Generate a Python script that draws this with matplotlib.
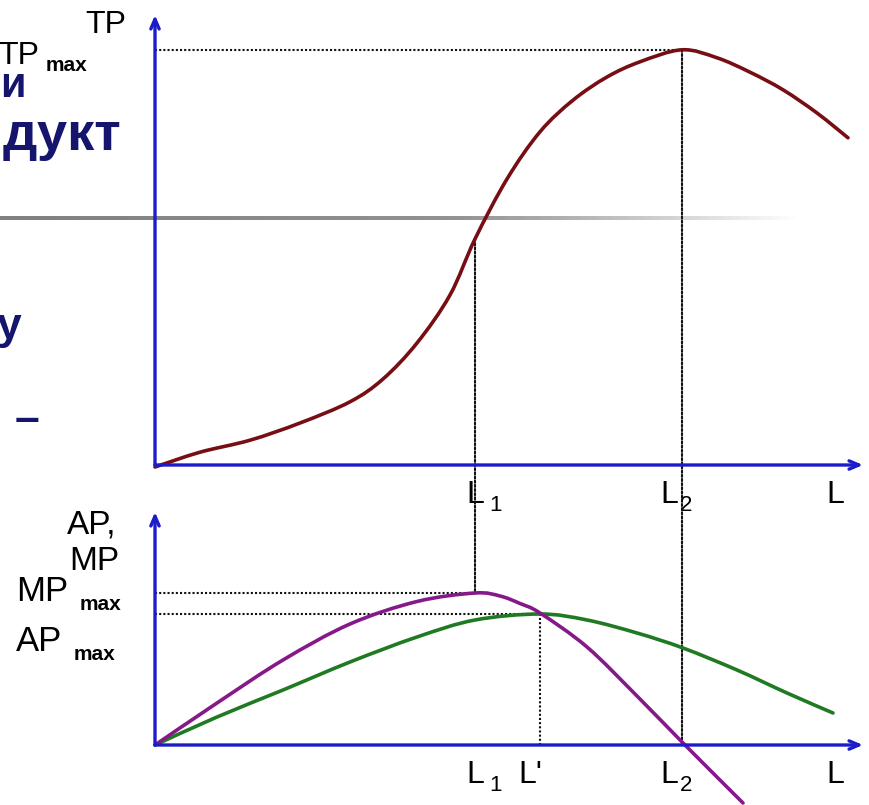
import matplotlib.pyplot as plt
import numpy as np
from matplotlib.patches import ConnectionPatch, PathPatch
from matplotlib.path import Path
from matplotlib import rcParams

rcParams['font.family'] = ['Liberation Sans', 'DejaVu Sans']

# Total product (top panel)
tp_L = [0, 4.5, 9.5, 14.5, 19.5, 22.8, 26.2, 29.5, 32, 35.2, 38.5, 41.8,
        45.2, 48.5, 52.7, 56.2, 59.5, 62.8, 66.2, 69.3]
tp_val = [-0.5, 3.2, 6.2, 10.5, 15.8, 21.5, 30.5, 42.5, 56.5, 71.5, 83.3, 91.2,
          97, 100.8, 103.8, 101.8, 98.2, 93.8, 88, 81.8]

# Marginal product and average product (bottom panel)
mp_L = [0, 6.2, 12.8, 19.5, 26.2, 32, 34.5, 36.5, 38.5, 43.2, 48.2, 52.8, 58.8]
mp_val = [0, 8.4, 17, 24.2, 28.7, 30.4, 29.8, 28.3, 26.4, 19.6, 9.8, 0.4, -11.6]
ap_L = [0, 6.2, 12.8, 19.5, 26.2, 32, 38.5, 43.2, 48.2, 52.8, 58.2, 63.2, 67.8]
ap_val = [0, 5.6, 11, 16.6, 21.6, 25, 26.2, 25, 22.4, 19.4, 15, 10.4, 6.4]

L1, L_prime, L2 = 32, 38.5, 52.7
TP_max, MP_max, AP_max = 103.8, 30.4, 26.2

BLUE = '#1c1cc8'
W, H = 870, 805


def smooth(x, y):
    # Catmull-Rom through the read points, drawn as cubic Bezier pieces
    pts = np.column_stack([x, y]).astype(float)
    verts, codes = [pts[0]], [Path.MOVETO]
    for i in range(len(pts) - 1):
        p0 = pts[i - 1] if i > 0 else pts[i]
        p1, p2 = pts[i], pts[i + 1]
        p3 = pts[i + 2] if i + 2 < len(pts) else pts[i + 1]
        verts += [p1 + (p2 - p0) / 6, p2 - (p3 - p1) / 6, p2]
        codes += [Path.CURVE4] * 3
    return Path(verts, codes)


fig = plt.figure(figsize=(8.7, 8.05), dpi=100)

# background layer in pixel coordinates (slide leftovers, labels)
bg = fig.add_axes([0, 0, 1, 1], zorder=0)
bg.axis('off')

# grey rule of the slide, fading to the right
g = np.linspace(0, 1, 400)
shade = 0.5 + 0.12 * g + 0.38 * np.clip((g - 0.55) / 0.45, 0, 1) ** 1.2
bg.imshow(np.tile(shade, (2, 1)), cmap='gray', vmin=0, vmax=1, aspect='auto',
          extent=[0, 800, 220, 216], interpolation='bilinear')
bg.set_xlim(0, W)
bg.set_ylim(H, 0)

navy = '#15156e'
bg.text(26, 97, "и", ha='right', va='baseline', fontsize=30, fontweight='bold', color=navy)
bg.text(121, 150, "дукт", ha='right', va='baseline', fontsize=39, fontweight='bold', color=navy)
bg.text(21, 339, "у", ha='right', va='baseline', fontsize=32, fontweight='bold', color=navy)
bg.text(39, 432, "–", ha='right', va='baseline', fontsize=32, fontweight='bold', color=navy)

# axis name labels
bg.text(85, 33, "TP", ha='left', va='baseline', fontsize=23)
bg.text(-2, 64, "TP", ha='left', va='baseline', fontsize=23)
bg.text(46, 71, "max", ha='left', va='baseline', fontsize=15, fontweight='bold')
bg.text(67, 533, "AP,", ha='left', va='baseline', fontsize=24)
bg.text(69, 570, "MP", ha='left', va='baseline', fontsize=24)
bg.text(16, 601, "MP", ha='left', va='baseline', fontsize=25)
bg.text(80, 610, "max", ha='left', va='baseline', fontsize=15, fontweight='bold')
bg.text(16, 651, "AP", ha='left', va='baseline', fontsize=25)
bg.text(74, 660, "max", ha='left', va='baseline', fontsize=15, fontweight='bold')

# x-axis labels
for ybase in (503, 783):
    bg.text(466, ybase, "L", ha='left', va='baseline', fontsize=23)
    bg.text(489, ybase + 8, "1", ha='left', va='baseline', fontsize=16)
    bg.text(660, ybase, "L", ha='left', va='baseline', fontsize=23)
    bg.text(680, ybase + 8, "2", ha='left', va='baseline', fontsize=16)
    bg.text(826, ybase, "L", ha='left', va='baseline', fontsize=23)
bg.text(518, 783, "L'", ha='left', va='baseline', fontsize=23)

# top panel: total product
ax1 = fig.add_axes([155 / W, 1 - 465 / H, 715 / W, 460 / H], zorder=2)
ax1.set_xlim(0, 71.5)
ax1.set_ylim(0, 115)
ax1.axis('off')
ax1.patch.set_alpha(0)

# bottom panel: MP and AP
ax2 = fig.add_axes([155 / W, 0, 715 / W, 300 / H], zorder=2)
ax2.set_xlim(0, 71.5)
ax2.set_ylim(-12, 48)
ax2.axis('off')
ax2.patch.set_alpha(0)

dot = dict(color='#111111', lw=1.5, ls=(0, (1, 1)))

# guide lines
ax1.plot([0, L2], [TP_max, TP_max], **dot, zorder=1)
ax2.plot([0, L1], [MP_max, MP_max], **dot, zorder=1)
ax2.plot([0, L_prime], [AP_max, AP_max], **dot, zorder=1)
ax2.plot([L_prime, L_prime], [0, AP_max], **dot, zorder=1)
tp_at_L1 = tp_val[tp_L.index(L1)]
for xa, ya, yb in ((L1, tp_at_L1, MP_max), (L2, TP_max, 0)):
    con = ConnectionPatch(xyA=(xa, ya), coordsA=ax1.transData,
                          xyB=(xa, yb), coordsB=ax2.transData,
                          color='#111111', lw=1.5, ls=(0, (1, 1)), zorder=1)
    fig.add_artist(con)

# curves
for ax, xv, yv, c, z in ((ax1, tp_L, tp_val, '#760e14', 3),
                         (ax2, ap_L, ap_val, '#1f7a22', 3),
                         (ax2, mp_L, mp_val, '#86198a', 4)):
    ax.add_patch(PathPatch(smooth(xv, yv), fill=False, edgecolor=c, lw=2.6,
                           capstyle='round', joinstyle='round', clip_on=False, zorder=z))

# axes with arrows
arrow = dict(arrowstyle='->,head_length=0.7,head_width=0.3', color=BLUE, lw=2.4,
             shrinkA=0, shrinkB=0)
ax1.annotate('', xy=(70.8, 0), xytext=(0, 0), arrowprops=arrow, annotation_clip=False, zorder=5)
ax1.annotate('', xy=(0, 112.5), xytext=(0, 0), arrowprops=arrow, annotation_clip=False, zorder=5)
ax2.annotate('', xy=(70.8, 0), xytext=(0, 0), arrowprops=arrow, annotation_clip=False, zorder=5)
ax2.annotate('', xy=(0, 46.6), xytext=(0, 0), arrowprops=arrow, annotation_clip=False, zorder=5)

plt.savefig('out.png', dpi=100)
